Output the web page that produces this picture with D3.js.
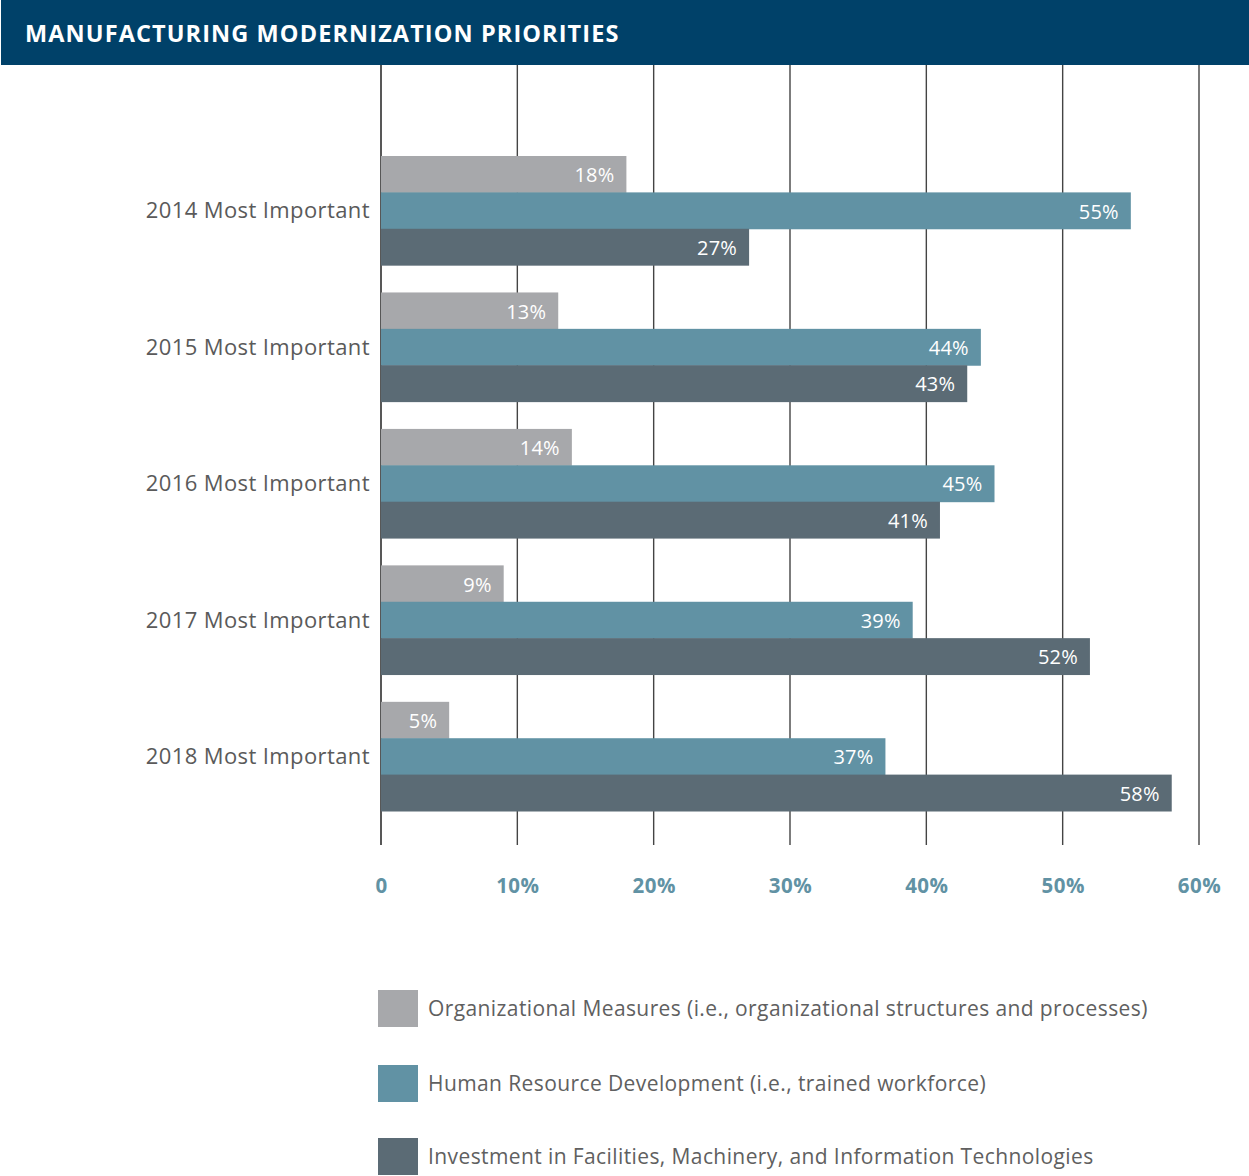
<!DOCTYPE html>
<html>
<head>
<meta charset="utf-8">
<script src="https://cdn.jsdelivr.net/npm/d3@7/dist/d3.min.js"></script>
<style>
  html, body { margin: 0; padding: 0; background: #fff; }
  svg { display: block; font-family: "Open Sans", "Noto Sans", sans-serif; }
</style>
</head>
<body>
<svg id="chart" width="1249" height="1176"></svg>
<script>
// Survey years shown as grouped rows
const categories = ["2014 Most Important", "2015 Most Important", "2016 Most Important", "2017 Most Important", "2018 Most Important"];

// Series names and their shares (%) per year
const seriesNames = [
  "Organizational Measures (i.e., organizational structures and processes)",
  "Human Resource Development (i.e., trained workforce)",
  "Investment in Facilities, Machinery, and Information Technologies"
];
const organizational = [18, 13, 14, 9, 5];
const humanResource  = [55, 44, 45, 39, 37];
const investment     = [27, 43, 41, 52, 58];

const tickValues = [0, 10, 20, 30, 40, 50, 60];
const tickLabels = ["0", "10%", "20%", "30%", "40%", "50%", "60%"];

const colors = ["#a7a8ab", "#6192a4", "#5b6b75"];
const seriesValues = [organizational, humanResource, investment];

const svg = d3.select("#chart");
const W = 1249, H = 1176;

// Header band
svg.append("rect").attr("x", 1).attr("y", 0).attr("width", W - 1).attr("height", 65).attr("fill", "#004169");
svg.append("text")
  .attr("x", 25).attr("y", 41.5)
  .attr("fill", "#fff")
  .attr("font-size", 23.5)
  .attr("font-weight", 700)
  .attr("letter-spacing", 1.1)
  .text("MANUFACTURING MODERNIZATION PRIORITIES");

// Scales
const x = d3.scaleLinear().domain([0, 60]).range([381, 1199]);
const y0 = d3.scaleBand().domain(categories).range([156, 811]).paddingInner(0.2).paddingOuter(0);
const y1 = d3.scaleBand().domain(d3.range(seriesNames.length)).range([0, y0.bandwidth()]);

// Vertical gridlines
svg.append("g").selectAll("line").data(tickValues).join("line")
  .attr("x1", d => x(d)).attr("x2", d => x(d))
  .attr("y1", 65).attr("y2", 845)
  .attr("stroke", d => d === 0 ? "#111" : "#444")
  .attr("stroke-width", 1.4);

// Bars
const rows = categories.map((c, i) => ({ cat: c, vals: seriesValues.map(s => s[i]) }));
const groups = svg.append("g").selectAll("g").data(rows).join("g")
  .attr("transform", d => `translate(0,${y0(d.cat)})`);

groups.selectAll("rect").data(d => d.vals.map((v, k) => ({ v, k }))).join("rect")
  .attr("x", x(0))
  .attr("y", d => y1(d.k))
  .attr("width", d => x(d.v) - x(0))
  .attr("height", y1.bandwidth() + 0.5)
  .attr("fill", d => colors[d.k]);

groups.selectAll("text.val").data(d => d.vals.map((v, k) => ({ v, k }))).join("text")
  .attr("class", "val")
  .attr("x", d => x(d.v) - 12)
  .attr("y", d => y1(d.k) + y1.bandwidth() / 2 + 1)
  .attr("dy", "0.35em")
  .attr("text-anchor", "end")
  .attr("fill", "#fff")
  .attr("font-size", 20)
  .attr("letter-spacing", 0.2)
  .text(d => d.v + "%");

// Category labels
svg.append("g").selectAll("text").data(categories).join("text")
  .attr("x", 370)
  .attr("y", d => y0(d) + y0.bandwidth() / 2)
  .attr("dy", "0.35em")
  .attr("text-anchor", "end")
  .attr("fill", "#5a5a5a")
  .attr("font-size", 22)
  .attr("letter-spacing", 0.4)
  .text(d => d);

// X axis tick labels
const xAxis = d3.axisBottom(x).tickValues(tickValues).tickFormat((d, i) => tickLabels[i]).tickSize(0);
const gx = svg.append("g").attr("transform", "translate(0,875)").call(xAxis);
gx.select(".domain").remove();
gx.selectAll("text")
  .attr("fill", "#6192a4")
  .attr("font-size", 20.5)
  .attr("font-weight", 700)
  .attr("letter-spacing", 0.5)
  .attr("font-family", "\"Open Sans\", sans-serif");

// Legend
const legendY = [990, 1065, 1138];
const lg = svg.append("g").selectAll("g").data(seriesNames).join("g")
  .attr("transform", (d, i) => `translate(378,${legendY[i]})`);
lg.append("rect").attr("width", 40).attr("height", 37).attr("fill", (d, i) => colors[i]);
lg.append("text")
  .attr("x", 50).attr("y", 19).attr("dy", "0.35em")
  .attr("fill", "#606060")
  .attr("font-size", 21)
  .attr("letter-spacing", 0.4)
  .text(d => d);
</script>
</body>
</html>
